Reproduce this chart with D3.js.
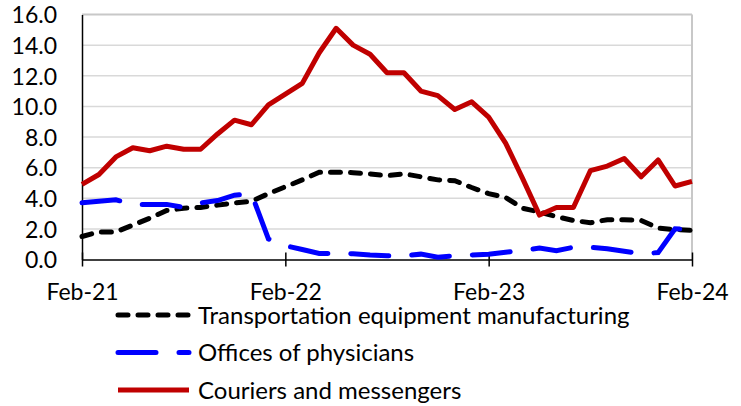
<!DOCTYPE html>
<html>
<head>
<meta charset="utf-8">
<script src="https://cdn.jsdelivr.net/npm/d3@7"></script>
<style>
  body { margin: 0; background: #fff; }
  svg text { font-family: Lato, "Open Sans", sans-serif; fill: #000; }
</style>
</head>
<body>
<div id="chart"></div>
<script>
// monthly, Feb-21 .. Feb-24
var months = ["Feb-21","Mar-21","Apr-21","May-21","Jun-21","Jul-21","Aug-21","Sep-21","Oct-21","Nov-21","Dec-21","Jan-22",
              "Feb-22","Mar-22","Apr-22","May-22","Jun-22","Jul-22","Aug-22","Sep-22","Oct-22","Nov-22","Dec-22","Jan-23",
              "Feb-23","Mar-23","Apr-23","May-23","Jun-23","Jul-23","Aug-23","Sep-23","Oct-23","Nov-23","Dec-23","Jan-24",
              "Feb-24"];
var xTicks = ["Feb-21", "Feb-22", "Feb-23", "Feb-24"];
var yTicks = [0, 2, 4, 6, 8, 10, 12, 14, 16];

var transport = [1.5, 1.8, 1.8, 2.25, 2.7, 3.2, 3.35, 3.4, 3.55, 3.7, 3.8, 4.3,
                 4.75, 5.2, 5.7, 5.7, 5.67, 5.58, 5.47, 5.6, 5.4, 5.2, 5.15, 4.7,
                 4.3, 4.05, 3.35, 3.1, 2.8, 2.55, 2.4, 2.6, 2.6, 2.55, 2.05, 1.95,
                 1.9];
var physicians = [3.7, 3.8, 3.9, 3.6, 3.6, 3.6, 3.4, 3.7, 3.85, 4.2, 4.3, 1.35,
                  0.9, 0.65, 0.4, 0.4, 0.38, 0.3, 0.25, 0.25, 0.35, 0.15, 0.25, 0.3,
                  0.35, 0.47, 0.6, 0.75, 0.58, 0.8, 0.8, 0.7, 0.54, 0.38, 0.45, 2.0,
                  1.95];
var couriers = [4.9, 5.55, 6.7, 7.3, 7.1, 7.4, 7.2, 7.2, 8.2, 9.1, 8.8, 10.1,
                10.8, 11.5, 13.5, 15.1, 14.0, 13.4, 12.2, 12.2, 11.0, 10.7, 9.8, 10.3,
                9.3, 7.6, 5.3, 2.9, 3.4, 3.4, 5.8, 6.1, 6.6, 5.4, 6.5, 4.8,
                5.1];

var seriesNames = ["Transportation equipment manufacturing", "Offices of physicians", "Couriers and messengers"];

var svg = d3.select("#chart").append("svg").attr("width", 741).attr("height", 406);

var x = d3.scalePoint().domain(months).range([82, 692]);
var y = d3.scaleLinear().domain([0, 16]).range([259.5, 14.5]);

// gridlines
svg.append("g").attr("class", "grid")
   .selectAll("line").data(yTicks.slice(1)).enter().append("line")
   .attr("x1", 82).attr("x2", 692)
   .attr("y1", function(d) { return y(d); }).attr("y2", function(d) { return y(d); })
   .style("stroke", function(d) { return d == 16 ? "#c8c8c8" : "#d9d9d9"; })
   .style("stroke-width", function(d) { return d == 16 ? 2 : 1.5; });

// right border of plot area
svg.append("line").attr("x1", 692).attr("x2", 692).attr("y1", y(16)).attr("y2", y(0))
   .style("stroke", "#c8c8c8").style("stroke-width", 2);

// y axis
var yAxis = d3.axisLeft(y).tickValues(yTicks).tickSize(0).tickPadding(25)
              .tickFormat(function(d) { return d3.format(".1f")(d); });
var gy = svg.append("g").attr("transform", "translate(82,0)").call(yAxis);
gy.select(".domain").style("stroke", "#000").style("stroke-width", 1.5);
gy.selectAll("text").style("font-size", "23px").attr("dy", "0.36em");

// x axis, ticks crossing the line
var xAxis = d3.axisBottom(x).tickValues(xTicks).tickSizeInner(7).tickSizeOuter(0).tickPadding(17);
var gx = svg.append("g").attr("transform", "translate(0," + y(0) + ")").call(xAxis);
gx.select(".domain").style("stroke", "#000").style("stroke-width", 1.5);
gx.selectAll(".tick line").attr("y1", -7).style("stroke", "#000").style("stroke-width", 1.5);
gx.selectAll("text").style("font-size", "23px").attr("dy", "0.71em");

// lines
var line = d3.line()
    .x(function(d, i) { return x(months[i]); })
    .y(function(d) { return y(d); });

svg.append("path").datum(transport).attr("class", "transport").attr("d", line)
   .style("fill", "none").style("stroke", "#000").style("stroke-width", 5)
   .style("stroke-dasharray", "10,10").style("stroke-linecap", "round");

svg.append("path").datum(physicians).attr("class", "physicians").attr("d", line)
   .style("fill", "none").style("stroke", "#0000ff").style("stroke-width", 5)
   .style("stroke-dasharray", "38,23").style("stroke-linecap", "round");

svg.append("path").datum(couriers).attr("class", "couriers").attr("d", line)
   .style("fill", "none").style("stroke", "#c00000").style("stroke-width", 5)
   .style("stroke-linejoin", "round");

// legend
var legStyles = [
  { color: "#000", dash: "10,10" },
  { color: "#0000ff", dash: "38,23" },
  { color: "#c00000", dash: null }
];

var leg = svg.append("g").attr("class", "legend")
   .selectAll("g.legItem").data(seriesNames).enter().append("g").attr("class", "legItem")
   .attr("transform", function(d, i) { return "translate(0," + (315 + i * 37.5) + ")"; });

leg.append("line").attr("x1", 118).attr("x2", 189).attr("y1", 0).attr("y2", 0)
   .style("stroke", function(d, i) { return legStyles[i].color; })
   .style("stroke-width", 5)
   .style("stroke-linecap", function(d, i) { return legStyles[i].dash ? "round" : "butt"; })
   .style("stroke-dasharray", function(d, i) { return legStyles[i].dash; });

leg.append("text").attr("x", 198).attr("y", 0).attr("dy", "0.36em")
   .style("font-size", "24px")
   .text(function(d) { return d; });
</script>
</body>
</html>
